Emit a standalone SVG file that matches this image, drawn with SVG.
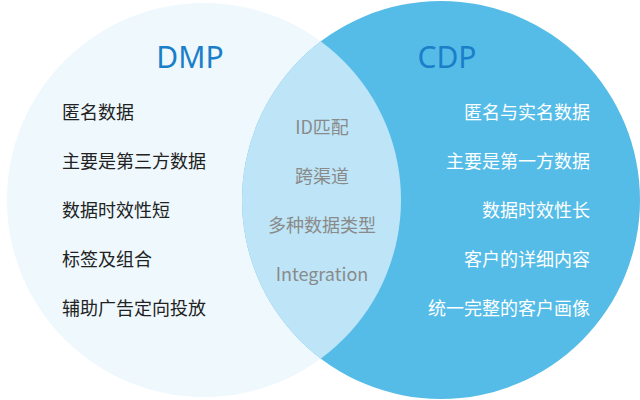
<svg xmlns="http://www.w3.org/2000/svg" width="640" height="400" viewBox="0 0 640 400">
<style>
.t{font-family:"Noto Sans CJK SC","Noto Sans",sans-serif;font-size:18px;}
.l{fill:#222;}
.r{fill:#fff;text-anchor:end;}
.m{fill:#8a8a8a;text-anchor:middle;}
.h{font-family:"Noto Sans","Open Sans",sans-serif;font-size:30px;text-anchor:middle;}
</style>
<defs><clipPath id="cl"><circle cx="204" cy="200" r="197"/></clipPath></defs>
<rect width="640" height="400" fill="#fff"/>
<g id="dmp"><circle cx="204" cy="200" r="197" fill="#eef8fd"/>
<text class="h" x="190" y="68" fill="#1a7fc9">DMP</text>
<text class="t l" x="62" y="119">匿名数据</text>
<text class="t l" x="62" y="168">主要是第三方数据</text>
<text class="t l" x="62" y="217">数据时效性短</text>
<text class="t l" x="62" y="266">标签及组合</text>
<text class="t l" x="62" y="315">辅助广告定向投放</text></g>
<g id="cdp"><circle cx="441" cy="200" r="199" fill="#55bce8"/>
<text class="h" x="447" y="68" fill="#1a7fc9">CDP</text>
<text class="t r" x="590" y="119">匿名与实名数据</text>
<text class="t r" x="590" y="168">主要是第一方数据</text>
<text class="t r" x="590" y="217">数据时效性长</text>
<text class="t r" x="590" y="266">客户的详细内容</text>
<text class="t r" x="590" y="315">统一完整的客户画像</text></g>
<g id="overlap"><circle cx="441" cy="200" r="199" fill="#bde5f7" clip-path="url(#cl)"/>
<text class="t m" x="322" y="134">ID匹配</text>
<text class="t m" x="322" y="183">跨渠道</text>
<text class="t m" x="322" y="232">多种数据类型</text>
<text class="t m" x="322" y="281">Integration</text></g>
<g id="connectors"/>
</svg>
